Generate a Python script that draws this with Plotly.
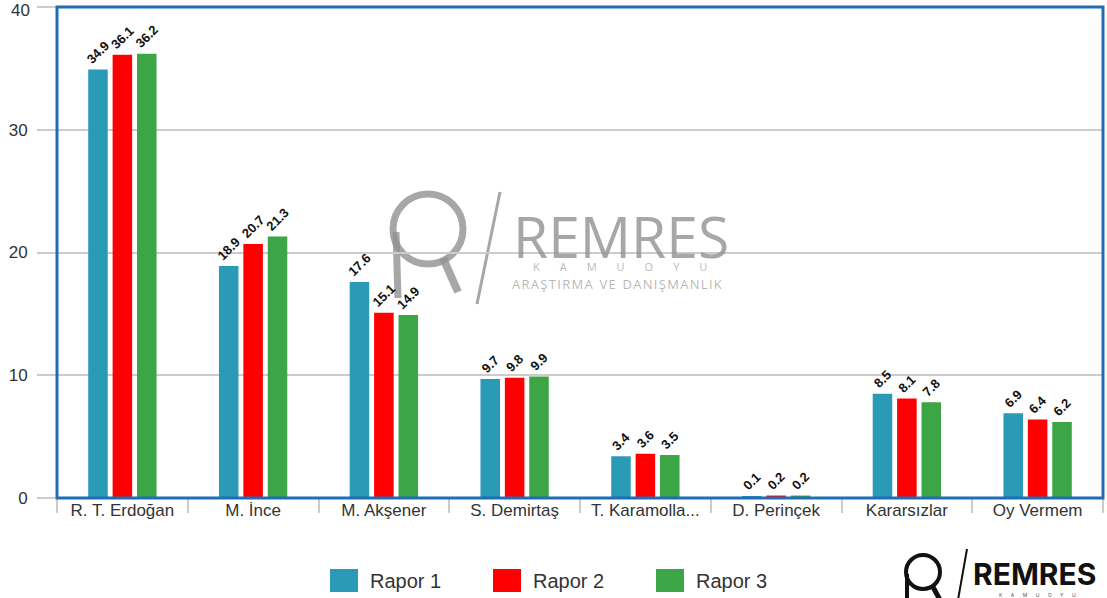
import plotly.graph_objects as go

categories = ["R. T. Erdoğan", "M. İnce", "M. Akşener", "S. Demirtaş",
              "T. Karamolla...", "D. Perinçek", "Kararsızlar", "Oy Vermem"]
series_names = ["Rapor 1", "Rapor 2", "Rapor 3"]
rapor1 = [34.9, 18.9, 17.6, 9.7, 3.4, 0.1, 8.5, 6.9]
rapor2 = [36.1, 20.7, 15.1, 9.8, 3.6, 0.2, 8.1, 6.4]
rapor3 = [36.2, 21.3, 14.9, 9.9, 3.5, 0.2, 7.8, 6.2]
colors = ["#2a9ab6", "#ff0000", "#3ca646"]
y_ticks = [0, 10, 20, 30, 40]
y_ticktext = ["0", "10", "20", "30", ""]  # top label drawn as annotation

W, H = 1107, 598
L, R, T, B = 57, 4, 7, 100
PW, PH = W - L - R, H - T - B


def px(xp):
    return (xp - L) / PW


def py(yp):
    return (H - B - yp) / PH


def spaced(s, sep="\u200a"):
    return sep.join(list(s))


fig = go.Figure()
for name, vals, col in zip(series_names, [rapor1, rapor2, rapor3], colors):
    fig.add_trace(go.Bar(
        x=categories, y=vals, name=name, marker_color=col,
        marker_line_width=0,
        text=[f"{v:.1f}" for v in vals], textposition="outside",
        textangle=-45, cliponaxis=False, constraintext="none",
        textfont=dict(family="Liberation Sans", size=13, color="#111111", weight="bold"),
        showlegend=False,
    ))

shapes = []
annotations = []

# plot border
shapes.append(dict(type="rect", xref="paper", yref="paper", x0=0, x1=1, y0=0, y1=1,
                   line=dict(color="#1f6db5", width=3), layer="above"))

# top y tick label
annotations.append(dict(xref="paper", yref="paper", x=px(31), y=py(0),
                        xanchor="right", yanchor="top", showarrow=False,
                        text=str(y_ticks[-1]), borderpad=0,
                        font=dict(family="Liberation Sans", size=17, color="#333333")))

# watermark logo (center)
wm = "rgba(145,145,145,0.8)"
wm2 = "rgba(160,160,160,0.75)"
cx, cy, r = 428, 229, 35
shapes.append(dict(type="circle", xref="paper", yref="paper",
                   x0=px(cx - r), x1=px(cx + r), y0=py(cy + r), y1=py(cy - r),
                   line=dict(color=wm, width=7), layer="below"))
shapes.append(dict(type="line", xref="paper", yref="paper",
                   x0=px(396), y0=py(232), x1=px(398), y1=py(298),
                   line=dict(color=wm, width=7), layer="below"))
shapes.append(dict(type="line", xref="paper", yref="paper",
                   x0=px(443), y0=py(258), x1=px(458), y1=py(292),
                   line=dict(color=wm, width=8), layer="below"))
shapes.append(dict(type="line", xref="paper", yref="paper",
                   x0=px(500), y0=py(192), x1=px(477), y1=py(304),
                   line=dict(color=wm, width=3), layer="below"))
annotations.append(dict(xref="paper", yref="paper", x=px(512), y=py(236),
                        xanchor="left", yanchor="middle", showarrow=False, borderpad=0,
                        text="REMRES", font=dict(family="Open Sans", size=57, color=wm)))
annotations.append(dict(xref="paper", yref="paper", x=px(620), y=py(266),
                        xanchor="center", yanchor="middle", showarrow=False, borderpad=0,
                        text="K       A       M       U       O       Y       U",
                        font=dict(family="Open Sans", size=11, color=wm2)))
annotations.append(dict(xref="paper", yref="paper", x=px(617), y=py(284),
                        xanchor="center", yanchor="middle", showarrow=False, borderpad=0,
                        text=spaced("ARAŞTIRMA") + "  " + spaced("VE") + "  " + spaced("DANIŞMANLIK"),
                        font=dict(family="Open Sans", size=13, color=wm2)))

# bottom-right logo
bk = "#111111"
cx2, cy2, r2 = 923, 572, 17
shapes.append(dict(type="circle", xref="paper", yref="paper",
                   x0=px(cx2 - r2), x1=px(cx2 + r2), y0=py(cy2 + r2), y1=py(cy2 - r2),
                   line=dict(color=bk, width=4)))
shapes.append(dict(type="line", xref="paper", yref="paper",
                   x0=px(907), y0=py(574), x1=px(907), y1=py(600),
                   line=dict(color=bk, width=4)))
shapes.append(dict(type="line", xref="paper", yref="paper",
                   x0=px(933), y0=py(587), x1=px(940), y1=py(600),
                   line=dict(color=bk, width=5)))
shapes.append(dict(type="line", xref="paper", yref="paper",
                   x0=px(967), y0=py(549), x1=px(958), y1=py(600),
                   line=dict(color=bk, width=2)))
annotations.append(dict(xref="paper", yref="paper", x=px(972), y=py(574),
                        xanchor="left", yanchor="middle", showarrow=False, borderpad=0,
                        text="<b>REMRES</b>", font=dict(family="Inter", size=30, color=bk)))
annotations.append(dict(xref="paper", yref="paper", x=px(1037), y=py(595),
                        xanchor="center", yanchor="middle", showarrow=False, borderpad=0,
                        text="K      A      M      U      O      Y      U",
                        font=dict(family="Inter", size=5, color="#555555")))

# manual legend
leg_x = [330, 493, 656]
for name, col, x0 in zip(series_names, colors, leg_x):
    shapes.append(dict(type="rect", xref="paper", yref="paper",
                       x0=px(x0), x1=px(x0 + 28), y0=py(592), y1=py(569),
                       fillcolor=col, line=dict(width=0)))
    annotations.append(dict(xref="paper", yref="paper", x=px(x0 + 38), y=py(581),
                            xanchor="left", yanchor="middle", showarrow=False,
                            text=name, font=dict(family="Liberation Sans", size=20, color="#333333")))

fig.update_layout(
    width=W, height=H,
    margin=dict(l=L, r=R, t=T, b=B),
    paper_bgcolor="white", plot_bgcolor="white",
    barmode="group", bargap=0.44, bargroupgap=0.2,
    font=dict(family="Liberation Sans", color="#333333"),
    shapes=shapes, annotations=annotations,
    xaxis=dict(
        showgrid=False, ticks="outside", tickson="boundaries", ticklen=14,
        tickcolor="#cccccc", tickwidth=2, showline=False,
        tickfont=dict(size=17, color="#333333"),
    ),
    yaxis=dict(
        range=[0, 40], tickvals=y_ticks, ticktext=y_ticktext,
        showgrid=True, gridcolor="#cccccc",
        gridwidth=1.5, zeroline=False, ticks="outside", ticklen=19,
        tickcolor="#cccccc", tickwidth=2, showline=False,
        tickfont=dict(size=17, color="#333333"), ticklabelstandoff=6,
    ),
)

fig.write_html("out.html", config={"displayModeBar": False},
               post_script="document.body.style.margin='0';document.body.style.overflow='hidden';")
